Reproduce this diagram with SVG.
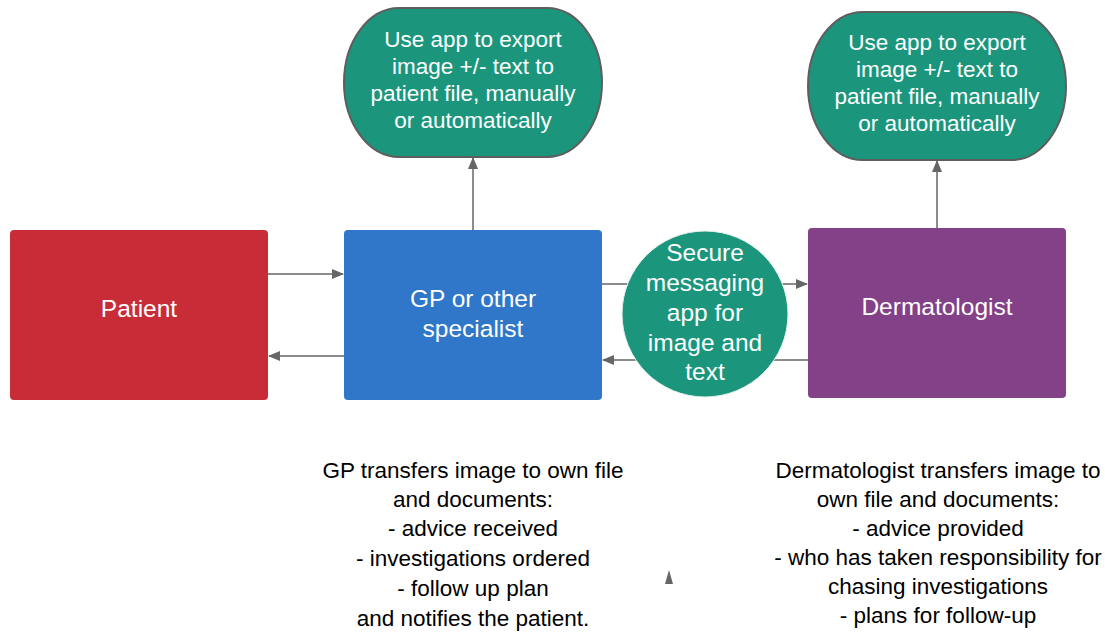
<svg xmlns="http://www.w3.org/2000/svg" width="1105" height="633" viewBox="0 0 1105 633">
  <defs>
    <marker id="arrow" viewBox="0 0 12 10" refX="11" refY="5" markerWidth="12" markerHeight="10" markerUnits="userSpaceOnUse" orient="auto">
      <path d="M0,0 L12,5 L0,10 Z" fill="#666666"/>
    </marker>
  </defs>
  <style>
    text { font-family: "Liberation Sans", Arial, sans-serif; text-anchor: middle; }
    .label { fill: #ffffff; font-size: 24.5px; }
    .small { fill: #ffffff; font-size: 22.5px; }
    .note { fill: #000000; font-size: 22.5px; }
    .conn { stroke: #666666; stroke-width: 1.5; fill: none; marker-end: url(#arrow); }
    .plain { stroke: #666666; stroke-width: 1.5; fill: none; }
    .stadium { fill: #1b967c; stroke: #5e5e5e; stroke-width: 2; }
  </style>

  <!-- connectors -->
  <g id="connectors">
    <line class="conn" x1="268" y1="274" x2="343" y2="274"/>
    <line class="conn" x1="344" y1="356" x2="269" y2="356"/>
    <line class="plain" x1="602" y1="284" x2="640" y2="284"/>
    <line class="conn" x1="770" y1="284" x2="807" y2="284"/>
    <line class="plain" x1="808" y1="360" x2="770" y2="360"/>
    <line class="conn" x1="640" y1="360" x2="603" y2="360"/>
    <line class="conn" x1="473" y1="230" x2="473" y2="158"/>
    <line class="conn" x1="937" y1="228" x2="937" y2="161"/>
    <path d="M665,584 L669,570 L673,584 Z" fill="#666666"/>
  </g>

  <g id="patient">
    <rect x="10" y="230" width="258" height="170" rx="4" fill="#c82d37"/>
    <text class="label" x="139" y="317">Patient</text>
  </g>

  <g id="gp">
    <rect x="344" y="230" width="258" height="170" rx="4" fill="#3077c9"/>
    <text class="label" x="473" y="307">GP or other</text>
    <text class="label" x="473" y="337">specialist</text>
  </g>

  <g id="dermatologist">
    <rect x="808" y="228" width="258" height="170" rx="4" fill="#834187"/>
    <text class="label" x="937" y="315">Dermatologist</text>
  </g>

  <g id="messaging">
    <circle cx="705" cy="314" r="83" fill="#1b967c" stroke="#e8f2ef" stroke-width="1"/>
    <text class="label" x="705" y="261">Secure</text>
    <text class="label" x="705" y="291">messaging</text>
    <text class="label" x="705" y="321">app for</text>
    <text class="label" x="705" y="351">image and</text>
    <text class="label" x="705" y="380">text</text>
  </g>

  <!-- stadium shapes: flat top and bottom, elliptical sides -->
  <g id="export-gp">
    <path class="stadium" d="M399,8 H547 A55,74.5 0 0 1 547,157 H399 A55,74.5 0 0 1 399,8 Z"/>
    <text class="small" x="473" y="47">Use app to export</text>
    <text class="small" x="473" y="74">image +/- text to</text>
    <text class="small" x="473" y="101">patient file, manually</text>
    <text class="small" x="473" y="128">or automatically</text>
  </g>

  <g id="export-derm">
    <path class="stadium" d="M863,12 H1011 A55,74 0 0 1 1011,160 H863 A55,74 0 0 1 863,12 Z"/>
    <text class="small" x="937" y="50">Use app to export</text>
    <text class="small" x="937" y="77">image +/- text to</text>
    <text class="small" x="937" y="104">patient file, manually</text>
    <text class="small" x="937" y="131">or automatically</text>
  </g>

  <g id="gp-notes">
    <text class="note" x="473" y="478">GP transfers image to own file</text>
    <text class="note" x="473" y="507">and documents:</text>
    <text class="note" x="473" y="536">- advice received</text>
    <text class="note" x="473" y="566">- investigations ordered</text>
    <text class="note" x="473" y="596">- follow up plan</text>
    <text class="note" x="473" y="626">and notifies the patient.</text>
  </g>

  <g id="derm-notes">
    <text class="note" x="938" y="478">Dermatologist transfers image to</text>
    <text class="note" x="938" y="507">own file and documents:</text>
    <text class="note" x="938" y="536">- advice provided</text>
    <text class="note" x="938" y="565">- who has taken responsibility for</text>
    <text class="note" x="938" y="594">chasing investigations</text>
    <text class="note" x="938" y="623">- plans for follow-up</text>
  </g>
</svg>
